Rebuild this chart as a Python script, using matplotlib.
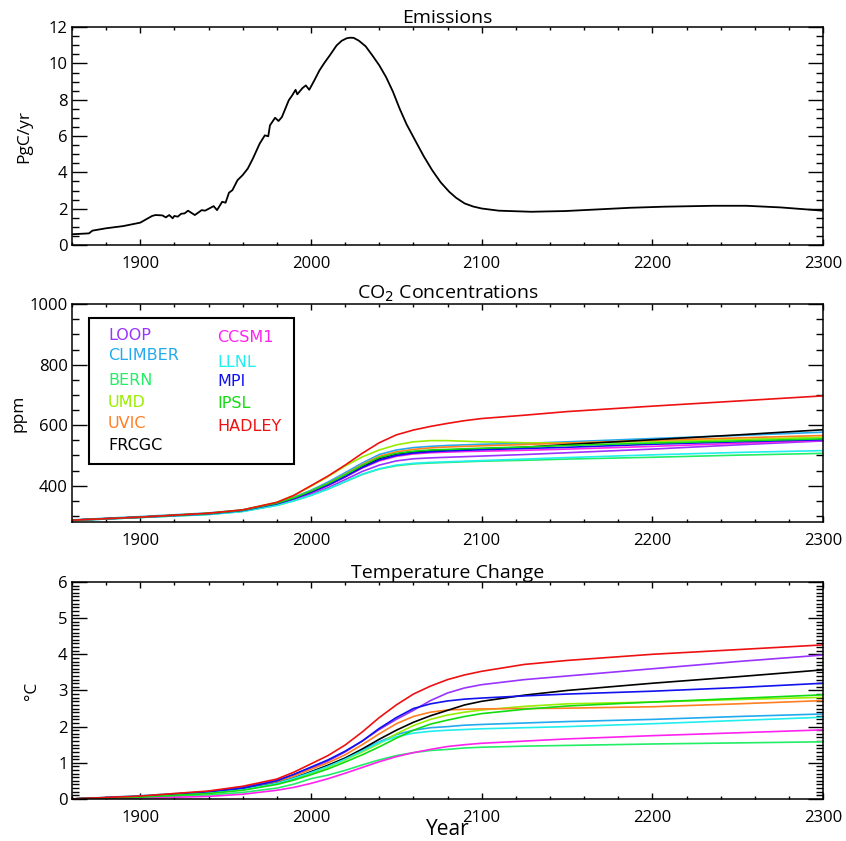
import matplotlib
matplotlib.use("Agg")
import matplotlib.pyplot as plt
from matplotlib.patches import Rectangle
from matplotlib.ticker import MultipleLocator

# emissions (PgC/yr)
emis_years = [1860, 1870, 1872, 1880, 1890, 1900, 1907, 1909, 1913, 1915, 1917,
              1919, 1920, 1922, 1924, 1926, 1928, 1932, 1936, 1938, 1943, 1945,
              1948, 1950, 1952, 1954, 1957, 1960, 1963, 1966, 1970, 1973, 1975,
              1976, 1979, 1981, 1983, 1987, 1989, 1991, 1992, 1995, 1997, 1999,
              2002, 2005, 2008, 2011, 2015, 2018, 2021, 2023, 2025, 2028, 2032,
              2036, 2040, 2044, 2048, 2052, 2056, 2061, 2066, 2071, 2076, 2081,
              2085, 2090, 2095, 2100, 2110, 2129, 2149, 2168, 2187, 2207, 2236,
              2255, 2275, 2300]
emis_vals = [0.59, 0.64, 0.79, 0.92, 1.04, 1.23, 1.60, 1.65, 1.63, 1.52, 1.65,
             1.47, 1.60, 1.56, 1.72, 1.74, 1.89, 1.65, 1.92, 1.89, 2.14, 1.92,
             2.38, 2.33, 2.88, 3.02, 3.57, 3.85, 4.21, 4.76, 5.59, 6.04, 5.99,
             6.59, 7.01, 6.83, 7.05, 7.97, 8.24, 8.55, 8.30, 8.64, 8.79, 8.55,
             9.07, 9.62, 10.05, 10.44, 10.99, 11.25, 11.39, 11.42, 11.41, 11.26, 10.95,
             10.44, 9.90, 9.25, 8.45, 7.50, 6.65, 5.77, 4.90, 4.12, 3.45, 2.93,
             2.60, 2.29, 2.12, 2.01, 1.89, 1.83, 1.87, 1.96, 2.05, 2.11, 2.16,
             2.16, 2.07, 1.89]

years = [1860, 1900, 1940, 1960, 1980, 1990, 2000, 2010, 2020, 2030, 2040, 2050,
         2060, 2070, 2080, 2090, 2100, 2125, 2150, 2200, 2250, 2300]

models = ["LOOP", "CLIMBER", "BERN", "UMD", "UVIC", "FRCGC",
          "CCSM1", "LLNL", "MPI", "IPSL", "HADLEY"]
colors = ["#9933ff", "#22aaee", "#22ee66", "#99ee00", "#ff7f22", "#000000",
          "#ff22ee", "#22eeee", "#1111ee", "#11dd11", "#ee1111"]

co2 = {
    "LOOP":    [285, 295, 306, 316, 337, 353, 372, 393, 420, 447, 468, 482, 489, 492, 494, 496, 498, 503, 509, 521, 535, 548],
    "CLIMBER": [287, 298, 310, 320, 343, 362, 385, 412, 443, 475, 503, 518, 526, 530, 533, 535, 537, 540, 545, 556, 566, 577],
    "BERN":    [285, 295, 305, 315, 335, 350, 368, 389, 413, 437, 455, 466, 472, 475, 477, 479, 481, 484, 488, 494, 501, 507],
    "UMD":     [286, 296, 309, 320, 345, 368, 398, 430, 465, 495, 518, 535, 545, 549, 549, 547, 545, 542, 541, 546, 553, 560],
    "UVIC":    [286, 296, 308, 319, 342, 360, 382, 408, 438, 470, 497, 512, 520, 525, 528, 530, 532, 536, 541, 550, 558, 566],
    "FRCGC":   [286, 296, 308, 318, 340, 357, 378, 402, 430, 462, 490, 505, 512, 516, 518, 520, 522, 527, 536, 552, 568, 585],
    "CCSM1":   [286, 296, 307, 317, 339, 356, 376, 400, 428, 458, 482, 497, 505, 509, 511, 513, 514, 517, 521, 530, 540, 550],
    "LLNL":    [285, 295, 305, 315, 335, 350, 368, 389, 414, 438, 456, 468, 474, 477, 479, 481, 483, 488, 493, 502, 510, 516],
    "MPI":     [286, 296, 307, 318, 340, 357, 378, 402, 430, 460, 485, 500, 508, 512, 515, 517, 519, 523, 527, 537, 545, 552],
    "IPSL":    [286, 296, 308, 319, 342, 360, 382, 407, 436, 467, 493, 507, 514, 518, 520, 522, 524, 528, 533, 541, 548, 555],
    "HADLEY":  [286, 296, 309, 320, 345, 368, 400, 432, 468, 507, 542, 568, 584, 596, 606, 615, 622, 633, 645, 663, 680, 697],
}

temp = {
    "LOOP":    [0, 0.07, 0.20, 0.32, 0.52, 0.67, 0.85, 1.05, 1.30, 1.60, 1.92, 2.20, 2.45, 2.72, 2.93, 3.07, 3.16, 3.30, 3.40, 3.60, 3.80, 3.98],
    "CLIMBER": [0, 0.09, 0.20, 0.28, 0.45, 0.59, 0.75, 0.93, 1.13, 1.35, 1.58, 1.78, 1.90, 1.97, 2.00, 2.04, 2.06, 2.10, 2.14, 2.20, 2.28, 2.35],
    "BERN":    [0, 0.04, 0.11, 0.18, 0.30, 0.41, 0.56, 0.66, 0.79, 0.94, 1.08, 1.20, 1.28, 1.34, 1.37, 1.41, 1.43, 1.46, 1.48, 1.52, 1.55, 1.58],
    "UMD":     [0, 0.06, 0.17, 0.26, 0.42, 0.55, 0.70, 0.88, 1.08, 1.30, 1.53, 1.80, 2.03, 2.20, 2.32, 2.40, 2.46, 2.56, 2.63, 2.68, 2.75, 2.81],
    "UVIC":    [0, 0.06, 0.18, 0.28, 0.47, 0.63, 0.82, 1.00, 1.22, 1.50, 1.80, 2.08, 2.28, 2.40, 2.46, 2.48, 2.49, 2.50, 2.51, 2.55, 2.63, 2.72],
    "FRCGC":   [0, 0.06, 0.17, 0.27, 0.43, 0.57, 0.75, 0.93, 1.13, 1.38, 1.65, 1.90, 2.12, 2.30, 2.45, 2.60, 2.70, 2.87, 3.00, 3.20, 3.38, 3.57],
    "CCSM1":   [0, 0.02, 0.07, 0.13, 0.24, 0.32, 0.43, 0.56, 0.71, 0.87, 1.03, 1.17, 1.28, 1.37, 1.45, 1.50, 1.54, 1.60, 1.66, 1.75, 1.83, 1.91],
    "LLNL":    [0, 0.06, 0.17, 0.26, 0.43, 0.57, 0.73, 0.90, 1.10, 1.33, 1.56, 1.72, 1.82, 1.87, 1.90, 1.92, 1.94, 1.97, 2.00, 2.08, 2.17, 2.26],
    "MPI":     [0, 0.07, 0.20, 0.30, 0.50, 0.68, 0.88, 1.08, 1.32, 1.60, 1.95, 2.25, 2.50, 2.63, 2.71, 2.76, 2.79, 2.85, 2.90, 2.98, 3.08, 3.20],
    "IPSL":    [0, 0.05, 0.15, 0.24, 0.40, 0.52, 0.67, 0.83, 1.02, 1.22, 1.44, 1.68, 1.90, 2.07, 2.18, 2.28, 2.36, 2.48, 2.57, 2.68, 2.78, 2.88],
    "HADLEY":  [0, 0.08, 0.22, 0.35, 0.55, 0.74, 0.97, 1.20, 1.49, 1.85, 2.25, 2.60, 2.90, 3.12, 3.30, 3.43, 3.53, 3.72, 3.83, 4.00, 4.13, 4.26],
}

plt.rcParams["font.family"] = ["Open Sans", "DejaVu Sans"]
plt.rcParams["font.size"] = 12

fig = plt.figure(figsize=(8.46, 8.41), dpi=100)
ax1 = fig.add_axes([0.085, 0.7087, 0.888, 0.259])
ax2 = fig.add_axes([0.085, 0.3793, 0.888, 0.259])
ax3 = fig.add_axes([0.085, 0.050, 0.888, 0.258])


def style(ax, ymaj, ymin):
    ax.set_xlim(1860, 2300)
    ax.xaxis.set_major_locator(MultipleLocator(100))
    ax.xaxis.set_minor_locator(MultipleLocator(20))
    ax.yaxis.set_major_locator(MultipleLocator(ymaj))
    ax.yaxis.set_minor_locator(MultipleLocator(ymin))
    ax.tick_params(which="both", direction="in", top=True, right=True, width=1)
    ax.tick_params(axis="x", which="major", length=4, pad=8)
    ax.tick_params(axis="x", which="minor", length=2.2)
    ax.tick_params(axis="y", which="major", length=11, pad=3)
    ax.tick_params(axis="y", which="minor", length=5)
    for s in ax.spines.values():
        s.set_linewidth(1.1)


# emissions
ax1.plot(emis_years, emis_vals, color="black", lw=1.3)
ax1.set_ylim(0, 12)
style(ax1, 2, 0.5)
ax1.set_title("Emissions", fontsize=14, pad=3)
ax1.set_ylabel("PgC/yr", fontsize=12.5)
ax1.yaxis.set_label_coords(-0.053, 0.5)

# CO2
for m, c in zip(models, colors):
    ax2.plot(years, co2[m], color=c, lw=1.2)
ax2.set_ylim(280, 1000)
style(ax2, 200, 50)
ax2.set_title("CO$_2$ Concentrations", fontsize=14, pad=3)
ax2.set_ylabel("ppm", fontsize=12.5)
ax2.yaxis.set_label_coords(-0.06, 0.5)

ax2.add_patch(Rectangle((0.0226, 0.266), 0.273, 0.67, transform=ax2.transAxes,
                        fill=False, edgecolor="black", lw=1.5, zorder=5))
left_rows = [0.858, 0.766, 0.651, 0.55, 0.454, 0.349]
right_rows = [0.849, 0.734, 0.647, 0.546, 0.44]
for i, (m, c) in enumerate(zip(models, colors)):
    if i < 6:
        x, y = 0.048, left_rows[i]
    else:
        x, y = 0.193, right_rows[i - 6]
    ax2.text(x, y, m, color=c, fontsize=11.5, family="DejaVu Sans",
             transform=ax2.transAxes, va="center", ha="left", zorder=6)

# temperature
for m, c in zip(models, colors):
    ax3.plot(years, temp[m], color=c, lw=1.2)
ax3.set_ylim(0, 6)
style(ax3, 1, 0.1)
ax3.set_title("Temperature Change", fontsize=14, pad=3)
ax3.set_ylabel("°C", fontsize=12.5)
ax3.yaxis.set_label_coords(-0.043, 0.5)
ax3.set_xlabel("Year", fontsize=15, labelpad=-5)

fig.savefig("out.png", dpi=100)
